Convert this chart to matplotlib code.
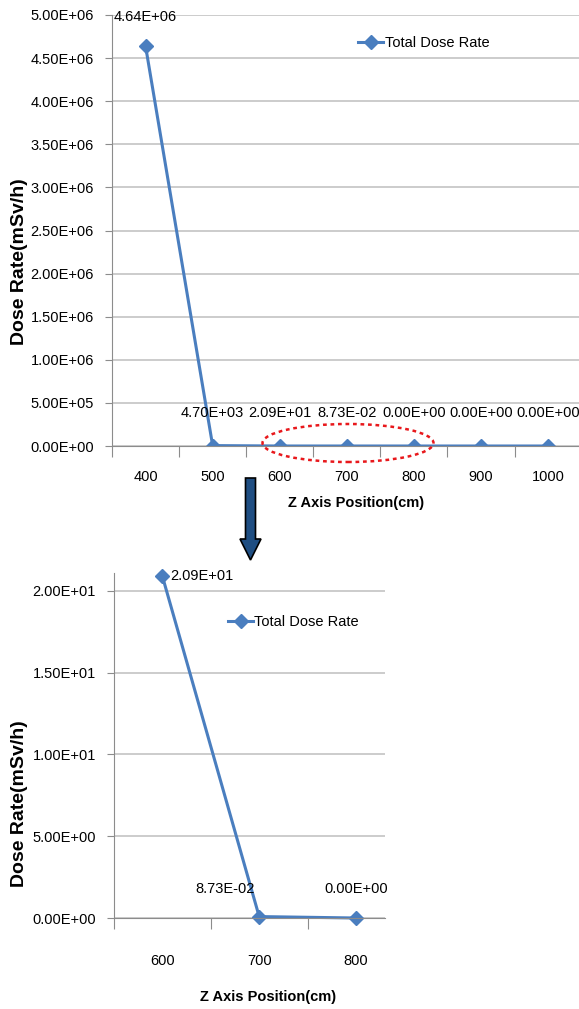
import matplotlib
matplotlib.use("Agg")
from matplotlib import pyplot as plt
from matplotlib.patches import Ellipse, Polygon
import numpy as np

plt.rcParams['font.family'] = ['Liberation Sans', 'DejaVu Sans']

# top chart data
positions = ['400', '500', '600', '700', '800', '900', '1000']
dose = [4.64e6, 4.70e3, 2.09e1, 8.73e-2, 0.0, 0.0, 0.0]
top_yticks = np.arange(0, 5.01e6, 5e5)

# zoomed chart data
zoom_positions = ['600', '700', '800']
zoom_dose = [2.09e1, 8.73e-2, 0.0]
zoom_yticks = [0, 5, 10, 15, 20]

line_color = '#4A7EBF'
grid_color = '#C8C8C8'
axis_color = '#8C8C8C'
fs = 10.5


def fmt(v):
    return '%.2E' % v


def style_axes(ax, n, yticks, ylim, xlim):
    for side in ['top', 'right']:
        ax.spines[side].set_visible(False)
    ax.spines['left'].set_color(axis_color)
    ax.spines['bottom'].set_color(axis_color)
    ax.set_yticks(yticks)
    ax.set_yticklabels([fmt(v) for v in yticks], fontsize=fs)
    ax.yaxis.grid(True, color=grid_color, linewidth=1.3)
    ax.tick_params(axis='y', length=5, color=axis_color, pad=8)
    # category boundaries as major ticks, labels on centres
    ax.set_xticks(np.arange(-0.5, n, 1.0))
    ax.set_xticklabels([])
    ax.tick_params(axis='x', which='major', length=8, color=axis_color)
    ax.set_xticks(np.arange(n), minor=True)
    ax.tick_params(axis='x', which='minor', length=0, labelsize=fs)
    ax.set_axisbelow(True)
    # limits last, set_xticks would widen them
    ax.set_xlim(*xlim)
    ax.set_ylim(*ylim)


fig = plt.figure(figsize=(5.79, 10.09), dpi=100)
W, H = 579.0, 1009.0

# top chart
ax1 = fig.add_axes([112 / W, 1 - 446 / H, (579 - 112) / W, (446 - 15) / H])
x1 = np.arange(len(positions))
ax1.plot(x1, dose, color=line_color, linewidth=2.2, marker='D', markersize=7,
         label='Total Dose Rate')
style_axes(ax1, len(positions), top_yticks, (0, 5e6), (-0.5, 6.46))
ax1.set_xticklabels(positions, minor=True)
ax1.tick_params(axis='x', which='minor', pad=17)
for xi, v in zip(x1, dose):
    yy = v + 2.5e5 if xi == 0 else v + 3.0e5
    ax1.text(xi, yy, fmt(v), ha='center', va='bottom', fontsize=fs)
ax1.legend(loc='upper left', bbox_to_anchor=(0.515, 0.965), frameon=False,
           fontsize=fs, handlelength=1.7, handletextpad=0.1, borderaxespad=0)
fig.text(356 / W, 1 - 503 / H, 'Z Axis Position(cm)', ha='center', va='center',
         fontsize=10.5, fontweight='bold')
fig.text(20 / W, 1 - 262 / H, 'Dose Rate(mSv/h)', ha='center', va='center',
         rotation=90, fontsize=14, fontweight='bold')

# dotted ellipse around 600-800
ell = Ellipse((348 / W, 1 - 443 / H), 171 / W, 38 / H, transform=fig.transFigure,
              fill=False, edgecolor='#E8181C', linestyle=(0, (1.5, 1.5)), linewidth=1.8)
fig.patches.append(ell)

# arrow
arrow_px = [[245.5, 478], [255.5, 478], [255.5, 539], [261, 539], [250.5, 560],
            [240, 539], [245.5, 539]]
arrow = Polygon([[px / W, 1 - py / H] for px, py in arrow_px], closed=True,
                transform=fig.transFigure, facecolor='#1F4E82', edgecolor='black',
                linewidth=1.2)
fig.patches.append(arrow)

# zoomed chart
ax2 = fig.add_axes([114 / W, 1 - 918 / H, (385 - 114) / W, (918 - 573) / H])
x2 = np.arange(len(zoom_positions))
ax2.plot(x2, zoom_dose, color=line_color, linewidth=2.2, marker='D', markersize=7,
         label='Total Dose Rate', clip_on=False)
style_axes(ax2, len(zoom_positions), zoom_yticks, (0, 21.1), (-0.5, 2.30))
ax2.set_xticklabels(zoom_positions, minor=True)
ax2.tick_params(axis='x', which='minor', pad=26)
ax2.text(x2[0] + 0.08, zoom_dose[0], fmt(zoom_dose[0]), ha='left', va='center', fontsize=fs)
ax2.text(x2[1] - 0.05, zoom_dose[1] + 1.7, fmt(zoom_dose[1]), ha='right', va='center', fontsize=fs)
ax2.text(x2[2], zoom_dose[2] + 1.8, fmt(zoom_dose[2]), ha='center', va='center', fontsize=fs)
ax2.legend(loc='upper left', bbox_to_anchor=(0.40, 0.895), frameon=False,
           fontsize=fs, handlelength=1.7, handletextpad=0.1, borderaxespad=0)
fig.text(268 / W, 1 - 997 / H, 'Z Axis Position(cm)', ha='center', va='center',
         fontsize=10.5, fontweight='bold')
fig.text(20 / W, 1 - 804 / H, 'Dose Rate(mSv/h)', ha='center', va='center',
         rotation=90, fontsize=14, fontweight='bold')

fig.savefig('out.png', dpi=100)
